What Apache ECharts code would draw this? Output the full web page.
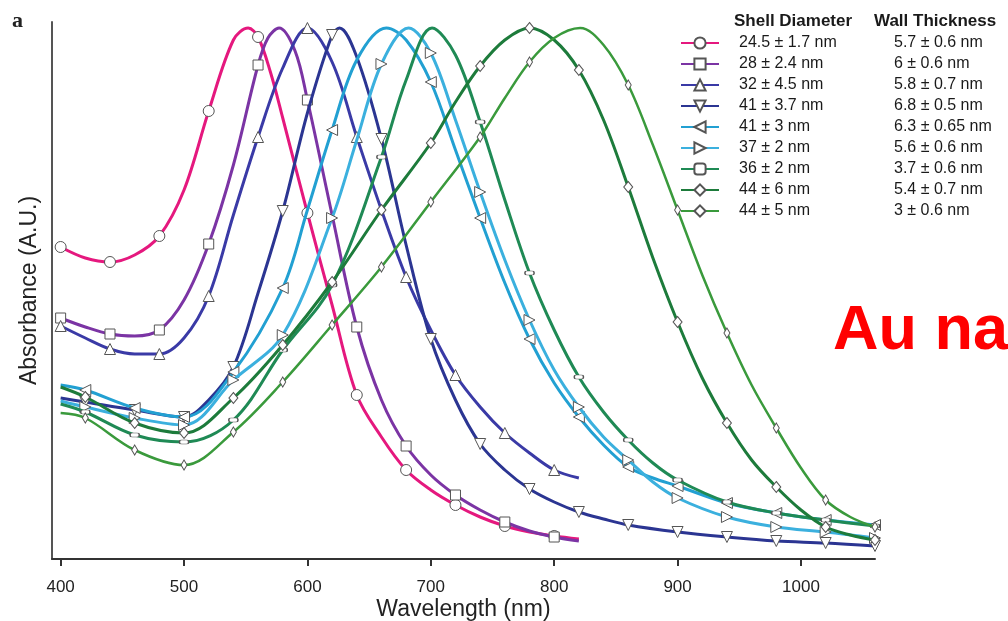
<!DOCTYPE html>
<html><head><meta charset="utf-8">
<script src="https://cdn.jsdelivr.net/npm/echarts@6/dist/echarts.min.js"></script>
<style>html,body{margin:0;padding:0;background:#fff}#c{width:1008px;height:621px}</style>
</head><body><div id="c"></div>
<script>
// ---- tick labels & marker wavelengths (nm) ----
const wavelengthTicks = [400, 500, 600, 700, 800, 900, 1000];
const markAt = [400, 440, 480, 520, 560, 600, 640, 680, 720, 760, 800];
const markAtOffset = [420, 460, 500, 540, 580, 620, 660, 700, 740, 780, 820, 860, 900, 940, 980, 1020, 1060];

// ---- legend texts ----
const shellDiameters = ['24.5 ± 1.7 nm', '28 ± 2.4 nm', '32 ± 4.5 nm', '41 ± 3.7 nm', '41 ± 3 nm', '37 ± 2 nm', '36 ± 2 nm', '44 ± 6 nm', '44 ± 5 nm'];
const wallThickness = ['5.7 ± 0.6 nm', '6 ± 0.6 nm', '5.8 ± 0.7 nm', '6.8 ± 0.5 nm', '6.3 ± 0.65 nm', '5.6 ± 0.6 nm', '3.7 ± 0.6 nm', '5.4 ± 0.7 nm', '3 ± 0.6 nm'];

// ---- spectra: [wavelength nm, absorbance A.U.] ----
const abs245 = [[400,312],[420,301],[440,297],[460,304],[480,323],[500,369],[520,448],[540,519],[552,531],[560,522],[570,487],[580,441],[600,346],[620,254],[640,164],[660,122],[680,89],[700,69],[720,54],[740,42],[760,33],[780,27],[800,23],[820,20]];
const abs28 = [[400,241],[420,232],[440,225],[460,223],[480,229],[500,259],[520,315],[540,394],[560,494],[568,521],[577,531],[590,508],[600,459],[620,344],[640,232],[660,159],[680,113],[700,84],[720,64],[740,49],[760,37],[780,28],[800,22],[820,18]];
const abs32 = [[400,233],[420,221],[440,210],[460,205],[480,205],[500,221],[520,263],[540,344],[560,422],[580,491],[600,531],[620,497],[640,422],[660,349],[680,282],[700,229],[720,184],[740,152],[760,126],[780,106],[800,89],[820,81]];
const abs41a = [[400,161],[420,157],[460,149],[500,142],[520,159],[540,192],[560,266],[580,348],[600,446],[620,524],[626,531],[640,502],[660,420],[680,314],[700,220],[720,159],[740,115],[760,89],[780,70],[800,57],[820,47],[840,40],[860,34],[900,27],[940,22],[980,18],[1020,16],[1060,13]];
const abs41b = [[400,174],[420,169],[460,151],[500,142],[540,187],[580,271],[600,349],[620,429],[640,499],[664,531],[680,519],[700,477],[720,409],[740,341],[760,276],[780,220],[800,176],[820,142],[840,114],[860,92],[880,81],[900,73],[940,56],[980,46],[1020,39],[1060,34]];
const abs37 = [[400,158],[420,152],[460,141],[500,134],[540,179],[580,224],[620,341],[640,419],[660,495],[682,531],[700,506],[720,439],[740,367],[760,299],[780,239],[800,189],[820,152],[840,122],[860,99],[880,77],[900,61],[940,42],[980,32],[1020,27],[1060,21]];
const abs36 = [[400,155],[420,147],[460,124],[500,117],[540,139],[580,209],[620,274],[660,402],[680,479],[701,531],[720,504],[740,437],[760,359],[780,286],[800,229],[820,182],[840,147],[860,119],[880,96],[900,79],[940,57],[980,46],[1020,39],[1060,33]];
const abs44a = [[400,172],[420,162],[460,136],[500,126],[540,161],[580,214],[620,277],[660,349],[700,416],[720,457],[740,493],[760,519],[780,531],[800,519],[820,489],[840,439],[860,372],[880,301],[900,237],[920,181],[940,136],[960,99],[980,72],[1000,49],[1020,32],[1040,24],[1060,19]];
const abs44b = [[400,146],[420,141],[460,109],[500,94],[540,127],[580,177],[620,234],[660,292],[700,357],[740,422],[760,461],[780,497],[800,521],[821,531],[840,514],[860,474],[880,414],[900,349],[920,284],[940,226],[960,174],[980,131],[1000,91],[1020,59],[1040,42],[1060,32]];

const spectra = [abs245, abs28, abs32, abs41a, abs41b, abs37, abs36, abs44a, abs44b];
const markSets = [markAt, markAt, markAt, markAtOffset, markAtOffset, markAtOffset, markAtOffset, markAtOffset, markAtOffset];

// ---- styles ----
const styles = [
  {color:'#e5187e', symbol:'circle', size:11, rotate:0, width:3},
  {color:'#7b34a4', symbol:'rect', size:10, rotate:0, width:3},
  {color:'#3a3aa6', symbol:'triangle', size:11, rotate:0, width:3},
  {color:'#2b3592', symbol:'triangle', size:11, rotate:180, width:3},
  {color:'#22a0d2', symbol:'triangle', size:11, rotate:90, width:3},
  {color:'#3bb0de', symbol:'triangle', size:11, rotate:-90, width:3},
  {color:'#1f8a55', symbol:'roundRect', size:[9,4], rotate:0, width:3},
  {color:'#1d7b3b', symbol:'diamond', size:[9,11], rotate:0, width:3},
  {color:'#3a9a3c', symbol:'diamond', size:[6,10], rotate:0, width:2.5}
];

const series = spectra.map((pts, i) => {
  const st = styles[i];
  return {
    name: shellDiameters[i],
    type: 'line',
    smooth: 0.35,
    showAllSymbol: true,
    symbol: st.symbol,
    symbolSize: st.size,
    symbolRotate: st.rotate,
    lineStyle: {color: st.color, width: st.width},
    itemStyle: {color: '#ffffff', borderColor: '#555', borderWidth: 1},
    emphasis: {disabled: true},
    z: 2 + i,
    data: pts.map(p => markSets[i].includes(p[0]) ? {value: p} : {value: p, symbol: 'none'})
  };
});

const chart = echarts.init(document.getElementById('c'), null, {renderer: 'canvas'});
chart.setOption({
  animation: false,
  backgroundColor: '#ffffff',
  grid: {left: 52, right: 133, top: 22, bottom: 62, outerBoundsMode: 'none', containLabel: false},
  xAxis: {
    type: 'value', min: 393, max: 1060,
    name: 'Wavelength (nm)', nameLocation: 'middle', nameGap: 39, nameMoveOverlap: false,
    nameTextStyle: {fontSize: 23, color: '#222', fontFamily: 'Liberation Sans'},
    axisLine: {lineStyle: {color: '#333', width: 2}},
    axisTick: {customValues: wavelengthTicks, length: 7, lineStyle: {color: '#333', width: 2}},
    axisLabel: {customValues: wavelengthTicks, margin: 20, fontSize: 17, color: '#222', fontFamily: 'Liberation Sans',
      formatter: v => String(v)},
    splitLine: {show: false}
  },
  yAxis: {
    type: 'value', min: 0, max: 537,
    name: 'Absorbance (A.U.)', nameLocation: 'middle', nameGap: 11, nameMoveOverlap: false,
    nameTextStyle: {fontSize: 23, color: '#222', fontFamily: 'Liberation Sans'},
    axisLine: {show: true, lineStyle: {color: '#555', width: 2}},
    axisTick: {show: false}, axisLabel: {show: false}, splitLine: {show: false}
  },
  legend: {
    orient: 'vertical', left: 680, top: 35, padding: 0,
    itemWidth: 38, itemHeight: 14, itemGap: 5,
    selectedMode: false,
    data: shellDiameters,
    formatter: name => {
      const i = shellDiameters.indexOf(name);
      return '{a|' + name + '}{b|' + wallThickness[i] + '}';
    },
    textStyle: {
      fontSize: 16, color: '#1a1a1a', fontFamily: 'Liberation Sans', lineHeight: 16,
      rich: {
        a: {fontSize: 16, fontFamily: 'Liberation Sans', color: '#1a1a1a', width: 155, padding: [0, 0, 0, 15]},
        b: {fontSize: 16, fontFamily: 'Liberation Sans', color: '#1a1a1a'}
      }
    }
  },
  graphic: [
    {type: 'text', left: 734, top: 13, style: {text: 'Shell Diameter', font: 'bold 17px "Liberation Sans"', fill: '#1a1a1a'}},
    {type: 'text', left: 874, top: 13, style: {text: 'Wall Thickness', font: 'bold 17px "Liberation Sans"', fill: '#1a1a1a'}},
    {type: 'text', left: 12, top: 10, style: {text: 'a', font: 'bold 22px "Liberation Serif"', fill: '#222'}},
    {type: 'text', left: 833, top: 300, style: {text: 'Au na', font: 'bold 63px "Liberation Sans"', fill: '#ff0000'}}
  ],
  series: series
});
</script></body></html>
